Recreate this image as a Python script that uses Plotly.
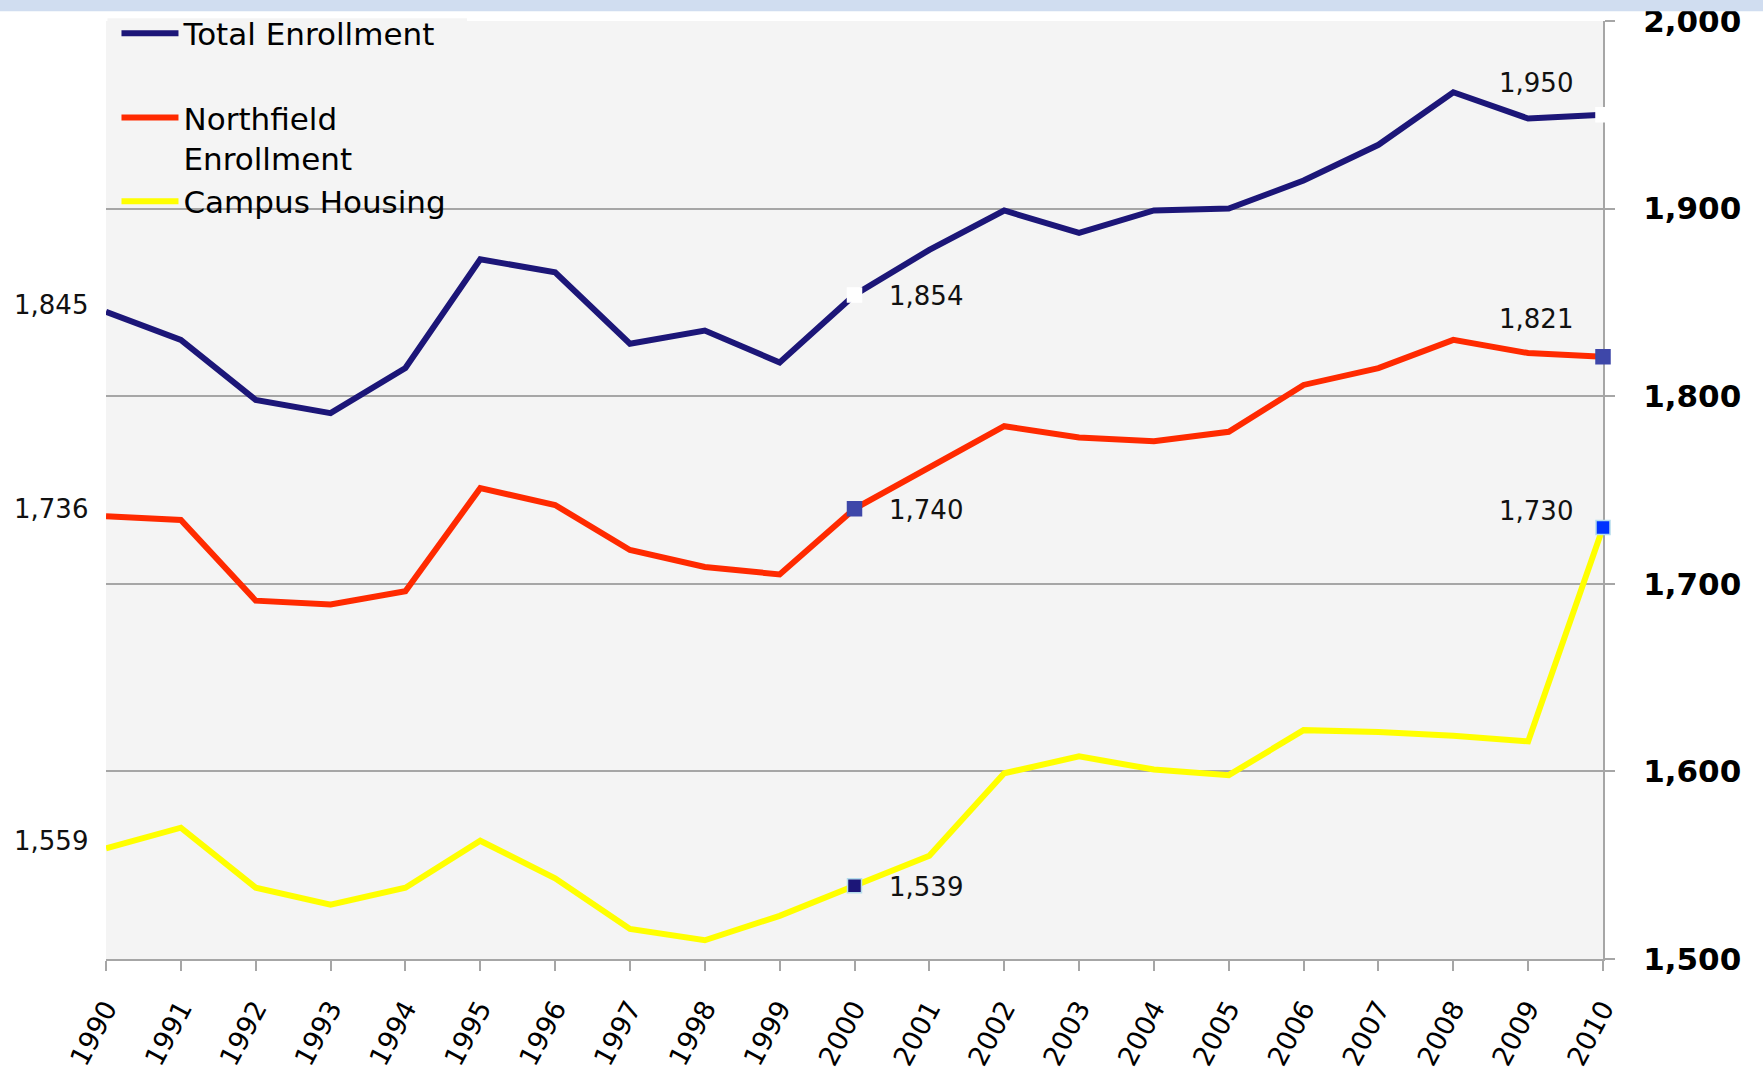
import plotly.graph_objects as go

# Enrollment and housing counts by year
years = list(range(1990, 2011))
total_enrollment = [1845, 1830, 1798, 1791, 1815, 1873, 1866, 1828, 1835, 1818,
                    1854, 1878, 1899, 1887, 1899, 1900, 1915, 1934, 1962, 1948, 1950]
northfield_enrollment = [1736, 1734, 1691, 1689, 1696, 1751, 1742, 1718, 1709, 1705,
                         1740, 1762, 1784, 1778, 1776, 1781, 1806, 1815, 1830, 1823, 1821]
campus_housing = [1559, 1570, 1538, 1529, 1538, 1563, 1543, 1516, 1510, 1523,
                  1539, 1555, 1599, 1608, 1601, 1598, 1622, 1621, 1619, 1616, 1730]

series_names = ["Total Enrollment", "Northfield<br>Enrollment", "Campus Housing"]
y_ticks = [1500, 1600, 1700, 1800, 1900, 2000]
highlight_years = [2000, 2010]

FONT = "DejaVu Sans"
GRID = "#A6A6A6"

series = [total_enrollment, northfield_enrollment, campus_housing]
line_colors = ["#1C1678", "#FF2A00", "#FFFF00"]
marker_fill = [["#FFFFFF", "#FFFFFF"], ["#3E47A9", "#3E47A9"], ["#1C1678", "#0033FF"]]
marker_edge = [["#FFFFFF", "#FFFFFF"], ["#3E47A9", "#3E47A9"], ["#B4DCEC", "#B4DCEC"]]
legend_ids = ["legend", "legend2", "legend3"]

# label offsets (px) for the value labels at the 2010 end of each line
end_label_yshift = [32, 38, 17]

fig = go.Figure()

for i, vals in enumerate(series):
    fig.add_trace(go.Scatter(
        x=years, y=vals, mode="lines", name=series_names[i],
        line=dict(color=line_colors[i], width=6),
        legend=legend_ids[i], cliponaxis=False,
    ))

for i, vals in enumerate(series):
    fig.add_trace(go.Scatter(
        x=highlight_years,
        y=[vals[years.index(yr)] for yr in highlight_years],
        mode="markers", showlegend=False, cliponaxis=False,
        marker=dict(symbol="square", size=14, color=marker_fill[i],
                    line=dict(color=marker_edge[i], width=1.5)),
    ))

annotations = []
label_font = dict(family=FONT, size=26, color="#111111")
for i, vals in enumerate(series):
    # starting value, left of the plot
    annotations.append(dict(
        x=years[0], y=vals[0], xref="x", yref="y", text=f"{vals[0]:,}",
        showarrow=False, xanchor="right", yanchor="middle",
        xshift=-16, yshift=7, font=label_font,
    ))
    # 2000 value, right of the point
    v2000 = vals[years.index(2000)]
    annotations.append(dict(
        x=2000, y=v2000, xref="x", yref="y", text=f"{v2000:,}",
        showarrow=False, xanchor="left", yanchor="middle",
        xshift=32, yshift=-1, font=label_font,
    ))
    # 2010 value, above-left of the point
    v2010 = vals[-1]
    annotations.append(dict(
        x=2010, y=v2010, xref="x", yref="y", text=f"{v2010:,}",
        showarrow=False, xanchor="right", yanchor="middle",
        xshift=-28, yshift=end_label_yshift[i], font=label_font,
    ))

legend_common = dict(
    bgcolor="rgba(0,0,0,0)", borderwidth=0,
    font=dict(family=FONT, size=31, color="#000000"),
    itemwidth=57, valign="top",
    xref="paper", x=0.007, xanchor="left", yanchor="middle",
)

fig.update_layout(
    width=1763, height=1077,
    margin=dict(l=106, r=160, t=21, b=118, pad=0, autoexpand=False),
    paper_bgcolor="#FFFFFF", plot_bgcolor="#F4F4F4",
    font=dict(family=FONT, color="#000000"),
    annotations=annotations,
    legend=dict(legend_common, y=0.9866),
    legend2=dict(legend_common, y=0.8753),
    legend3=dict(legend_common, y=0.8074),
    shapes=[
        # pale header band across the top of the page
        dict(type="rect", xref="paper", yref="paper", x0=-0.2, x1=1.3,
             y0=1.0105, y1=1.05, fillcolor="#D0DDF0", line=dict(width=0),
             layer="above"),
        # legend panel over the gridlines
        dict(type="rect", xref="paper", yref="paper", x0=0.001, x1=0.2412,
             y0=0.7775, y1=1.003, fillcolor="#F4F4F4", line=dict(width=0),
             layer="between"),
    ],
    xaxis=dict(
        range=[1990, 2010], tickmode="array", tickvals=years,
        ticktext=[str(y) for y in years], tickangle=-62,
        ticks="outside", ticklen=10, tickwidth=2, tickcolor=GRID,
        showline=True, linecolor=GRID, linewidth=2, layer="below traces",
        showgrid=False, zeroline=False, automargin=False,
        tickfont=dict(family=FONT, size=27, color="#000000"),
        ticklabelstandoff=11,
    ),
    yaxis=dict(
        range=[1500, 2000], side="right", tickmode="array", tickvals=y_ticks,
        tickformat=",", ticks="outside", ticklen=10, tickwidth=2, tickcolor=GRID,
        showline=True, linecolor=GRID, linewidth=2, layer="below traces",
        showgrid=True, gridcolor=GRID, gridwidth=2, zeroline=False,
        automargin=False,
        tickfont=dict(family=FONT, size=31, color="#000000", weight="bold"),
        ticklabelstandoff=22,
    ),
)

fig.write_html("out.html")
